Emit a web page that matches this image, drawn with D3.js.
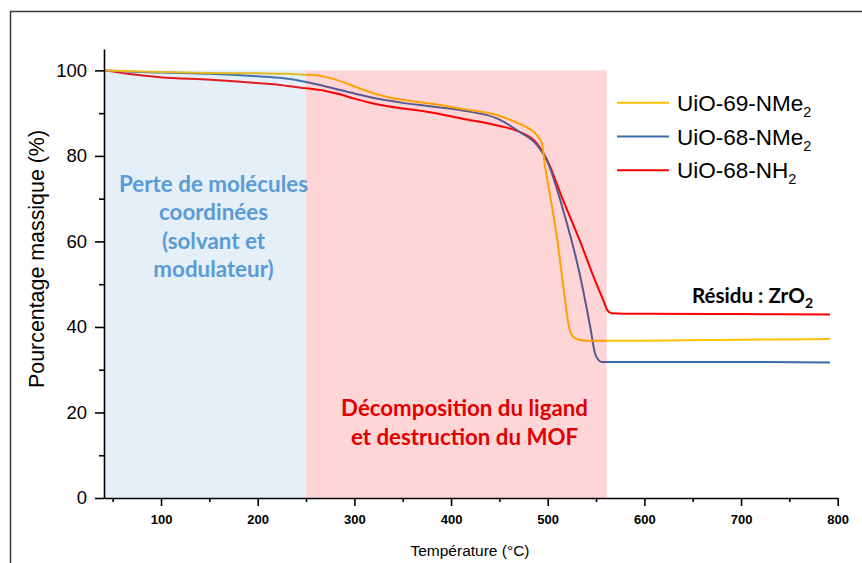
<!DOCTYPE html>
<html>
<head>
<meta charset="utf-8">
<script src="https://cdn.jsdelivr.net/npm/d3@7"></script>
<style>
  html, body { margin: 0; padding: 0; background: #fff; }
  svg { display: block; }
</style>
</head>
<body>
<svg id="chart" width="862" height="563"></svg>
<script>
// Thermogravimetric curves: temperature (°C) and remaining mass (%)
const tempUiO69NMe2 = [41, 70, 100, 150, 200, 230, 250, 265, 280, 295, 310, 325, 340, 360, 380, 412, 448, 471, 482, 489, 494, 497, 503, 509, 518, 522, 526, 532, 540, 560, 600, 700, 792];
const massUiO69NMe2 = [100, 99.8, 99.6, 99.4, 99.3, 99.2, 99.0, 98.7, 97.9, 96.7, 95.4, 94.3, 93.5, 92.8, 92.2, 91.0, 89.5, 87.5, 86.2, 84.8, 82.9, 78.0, 70.0, 61.8, 46.3, 40.0, 37.8, 37.0, 36.8, 36.8, 36.8, 37.0, 37.2];

const tempUiO68NMe2 = [41, 70, 100, 150, 200, 225, 250, 275, 300, 326, 350, 378, 412, 448, 471, 489, 499, 516, 533, 544, 549, 553, 556, 600, 700, 792];
const massUiO68NMe2 = [100, 99.7, 99.5, 99.2, 98.6, 98.2, 97.3, 96.0, 94.6, 93.3, 92.4, 91.6, 90.6, 88.7, 85.6, 82.5, 79.0, 67.3, 52.5, 40.0, 33.8, 32.2, 31.8, 31.8, 31.8, 31.7];

const tempUiO68NH2 = [41, 65, 99, 151, 202, 223, 250, 270, 285, 300, 315, 330, 350, 375, 412, 448, 471, 489, 499, 516, 533, 550, 558, 562, 566, 580, 600, 700, 792];
const massUiO68NH2 = [100, 99.2, 98.4, 97.8, 97.0, 96.6, 95.8, 95.2, 94.4, 93.4, 92.5, 91.8, 91.1, 90.3, 88.7, 87.1, 85.6, 82.9, 79.2, 69.6, 60.3, 50.3, 46.0, 43.8, 43.2, 43.1, 43.1, 43.0, 42.9];

const seriesNames = ["UiO-69-NMe", "UiO-68-NMe", "UiO-68-NH"];
const seriesColors = ["#ffc000", "#3b6aa8", "#ff0000"];

// Temperature ranges of the two mass-loss steps
const stepRanges = [[41, 250], [250, 561]];

const xMajorTicks = [100, 200, 300, 400, 500, 600, 700, 800];
const xMinorTicks = [50, 150, 250, 350, 450, 550, 650, 750];
const yMajorTicks = [0, 20, 40, 60, 80, 100];
const yMinorTicks = [10, 30, 50, 70, 90];

const arial = "'Liberation Sans', Arial, Helvetica, sans-serif";
const calibri = "Lato, 'Open Sans', sans-serif";

const svg = d3.select("#chart");

// outer frame
svg.append("rect")
  .attr("x", 10.5).attr("y", 11.5)
  .attr("width", 900).attr("height", 600)
  .attr("fill", "none").attr("stroke", "#3a3a3a").attr("stroke-width", 1.5);

const x = d3.scaleLinear().domain([41, 800]).range([104, 837.7]);
const y = d3.scaleLinear().domain([0, 105]).range([498, 49]);

const line = d3.line()
  .x(d => x(d[0]))
  .y(d => y(d[1]))
  .curve(d3.curveMonotoneX);

const series = [
  d3.zip(tempUiO69NMe2, massUiO69NMe2),
  d3.zip(tempUiO68NMe2, massUiO68NMe2),
  d3.zip(tempUiO68NH2, massUiO68NH2)
];

// curves (drawn in reverse so the yellow one stays on top)
svg.append("g").selectAll("path")
  .data(series.map((d, i) => ({ d, i })).reverse())
  .join("path")
  .attr("d", s => line(s.d))
  .attr("fill", "none")
  .attr("stroke", s => seriesColors[s.i])
  .attr("stroke-width", 2)
  .attr("stroke-linejoin", "round");

// translucent bands laid over the curves
const bandFills = ["rgba(91,155,213,0.165)", "rgba(255,0,10,0.16)"];
svg.append("g").selectAll("rect")
  .data(stepRanges)
  .join("rect")
  .attr("x", d => x(d[0]))
  .attr("width", d => x(d[1]) - x(d[0]))
  .attr("y", y(100))
  .attr("height", y(0) - y(100))
  .attr("fill", (d, i) => bandFills[i]);

// x axis
const gx = svg.append("g").attr("transform", `translate(0,${y(0)})`);
gx.call(d3.axisBottom(x).tickValues(xMajorTicks).tickSize(8).tickPadding(9).tickSizeOuter(0))
  .call(g => g.select(".domain").attr("stroke-width", 1.6))
  .call(g => g.selectAll(".tick line").attr("stroke-width", 1.6))
  .call(g => g.selectAll("text")
    .attr("font-family", arial).attr("font-size", 13).attr("font-weight", "bold").attr("fill", "#000"));
svg.append("g").attr("transform", `translate(0,${y(0)})`)
  .call(d3.axisBottom(x).tickValues(xMinorTicks).tickSize(4).tickFormat(""))
  .call(g => g.select(".domain").remove())
  .call(g => g.selectAll(".tick line").attr("stroke-width", 1.6));

// y axis
const gy = svg.append("g").attr("transform", `translate(${x(41)},0)`);
gy.call(d3.axisLeft(y).tickValues(yMajorTicks).tickSize(9).tickPadding(8).tickSizeOuter(0))
  .call(g => g.select(".domain").attr("stroke-width", 1.6))
  .call(g => g.selectAll(".tick line").attr("stroke-width", 1.6))
  .call(g => g.selectAll("text")
    .attr("font-family", arial).attr("font-size", 18.5).attr("fill", "#000"));
svg.append("g").attr("transform", `translate(${x(41)},0)`)
  .call(d3.axisLeft(y).tickValues(yMinorTicks).tickSize(5).tickFormat(""))
  .call(g => g.select(".domain").remove())
  .call(g => g.selectAll(".tick line").attr("stroke-width", 1.6));

// axis titles
svg.append("text")
  .attr("x", 470).attr("y", 556)
  .attr("text-anchor", "middle")
  .attr("font-family", arial).attr("font-size", 15.5)
  .text("Température (°C)");

svg.append("text")
  .attr("transform", "translate(44,259) rotate(-90)")
  .attr("text-anchor", "middle")
  .attr("font-family", arial).attr("font-size", 21.4)
  .text("Pourcentage massique (%)");

// scale a block of lines so its first line spans the given width
function fitBlock(nodes, width) {
  const w = nodes[0].getComputedTextLength();
  const fs = parseFloat(nodes[0].getAttribute("font-size"));
  const nfs = fs * width / w;
  nodes.forEach(n => n.setAttribute("font-size", nfs));
}

// step annotations
const blueLines = ["Perte de molécules", "coordinées", "(solvant et", "modulateur)"];
const blueNodes = svg.append("g").selectAll("text")
  .data(blueLines).join("text")
  .attr("x", 213.5).attr("y", (d, i) => 191.5 + i * 28.5)
  .attr("text-anchor", "middle")
  .attr("font-family", calibri).attr("font-weight", "bold").attr("font-size", 20)
  .attr("fill", "#5b9bd5")
  .text(d => d).nodes();
fitBlock(blueNodes, 189);

const redLines = ["Décomposition du ligand", "et destruction du MOF"];
const redNodes = svg.append("g").selectAll("text")
  .data(redLines).join("text")
  .attr("x", 464.5).attr("y", (d, i) => 416 + i * 29)
  .attr("text-anchor", "middle")
  .attr("font-family", calibri).attr("font-weight", "bold").attr("font-size", 20)
  .attr("fill", "#e00000")
  .text(d => d).nodes();
fitBlock(redNodes, 247);

const residue = svg.append("text")
  .attr("x", 692).attr("y", 303)
  .attr("font-family", calibri).attr("font-weight", "bold").attr("font-size", 20)
  .attr("fill", "#000");
residue.append("tspan").text("Résidu : ZrO");
fitBlock([residue.node()], 113);
const rfs = parseFloat(residue.attr("font-size"));
residue.append("tspan").attr("font-size", rfs * 0.68).attr("dy", rfs * 0.22).text("2");

// legend
const legend = svg.append("g");
const rowY = [102.7, 136.5, 170.3];
seriesNames.forEach((name, i) => {
  legend.append("line")
    .attr("x1", 617).attr("x2", 669)
    .attr("y1", rowY[i]).attr("y2", rowY[i])
    .attr("stroke", seriesColors[i]).attr("stroke-width", 2);
  const t = legend.append("text")
    .attr("x", 677).attr("y", rowY[i] + 8)
    .attr("font-family", arial).attr("font-size", 22.5).attr("fill", "#000");
  t.append("tspan").text(name);
  t.append("tspan").attr("font-size", 14.5).attr("dy", 6).text("2");
});
</script>
</body>
</html>
